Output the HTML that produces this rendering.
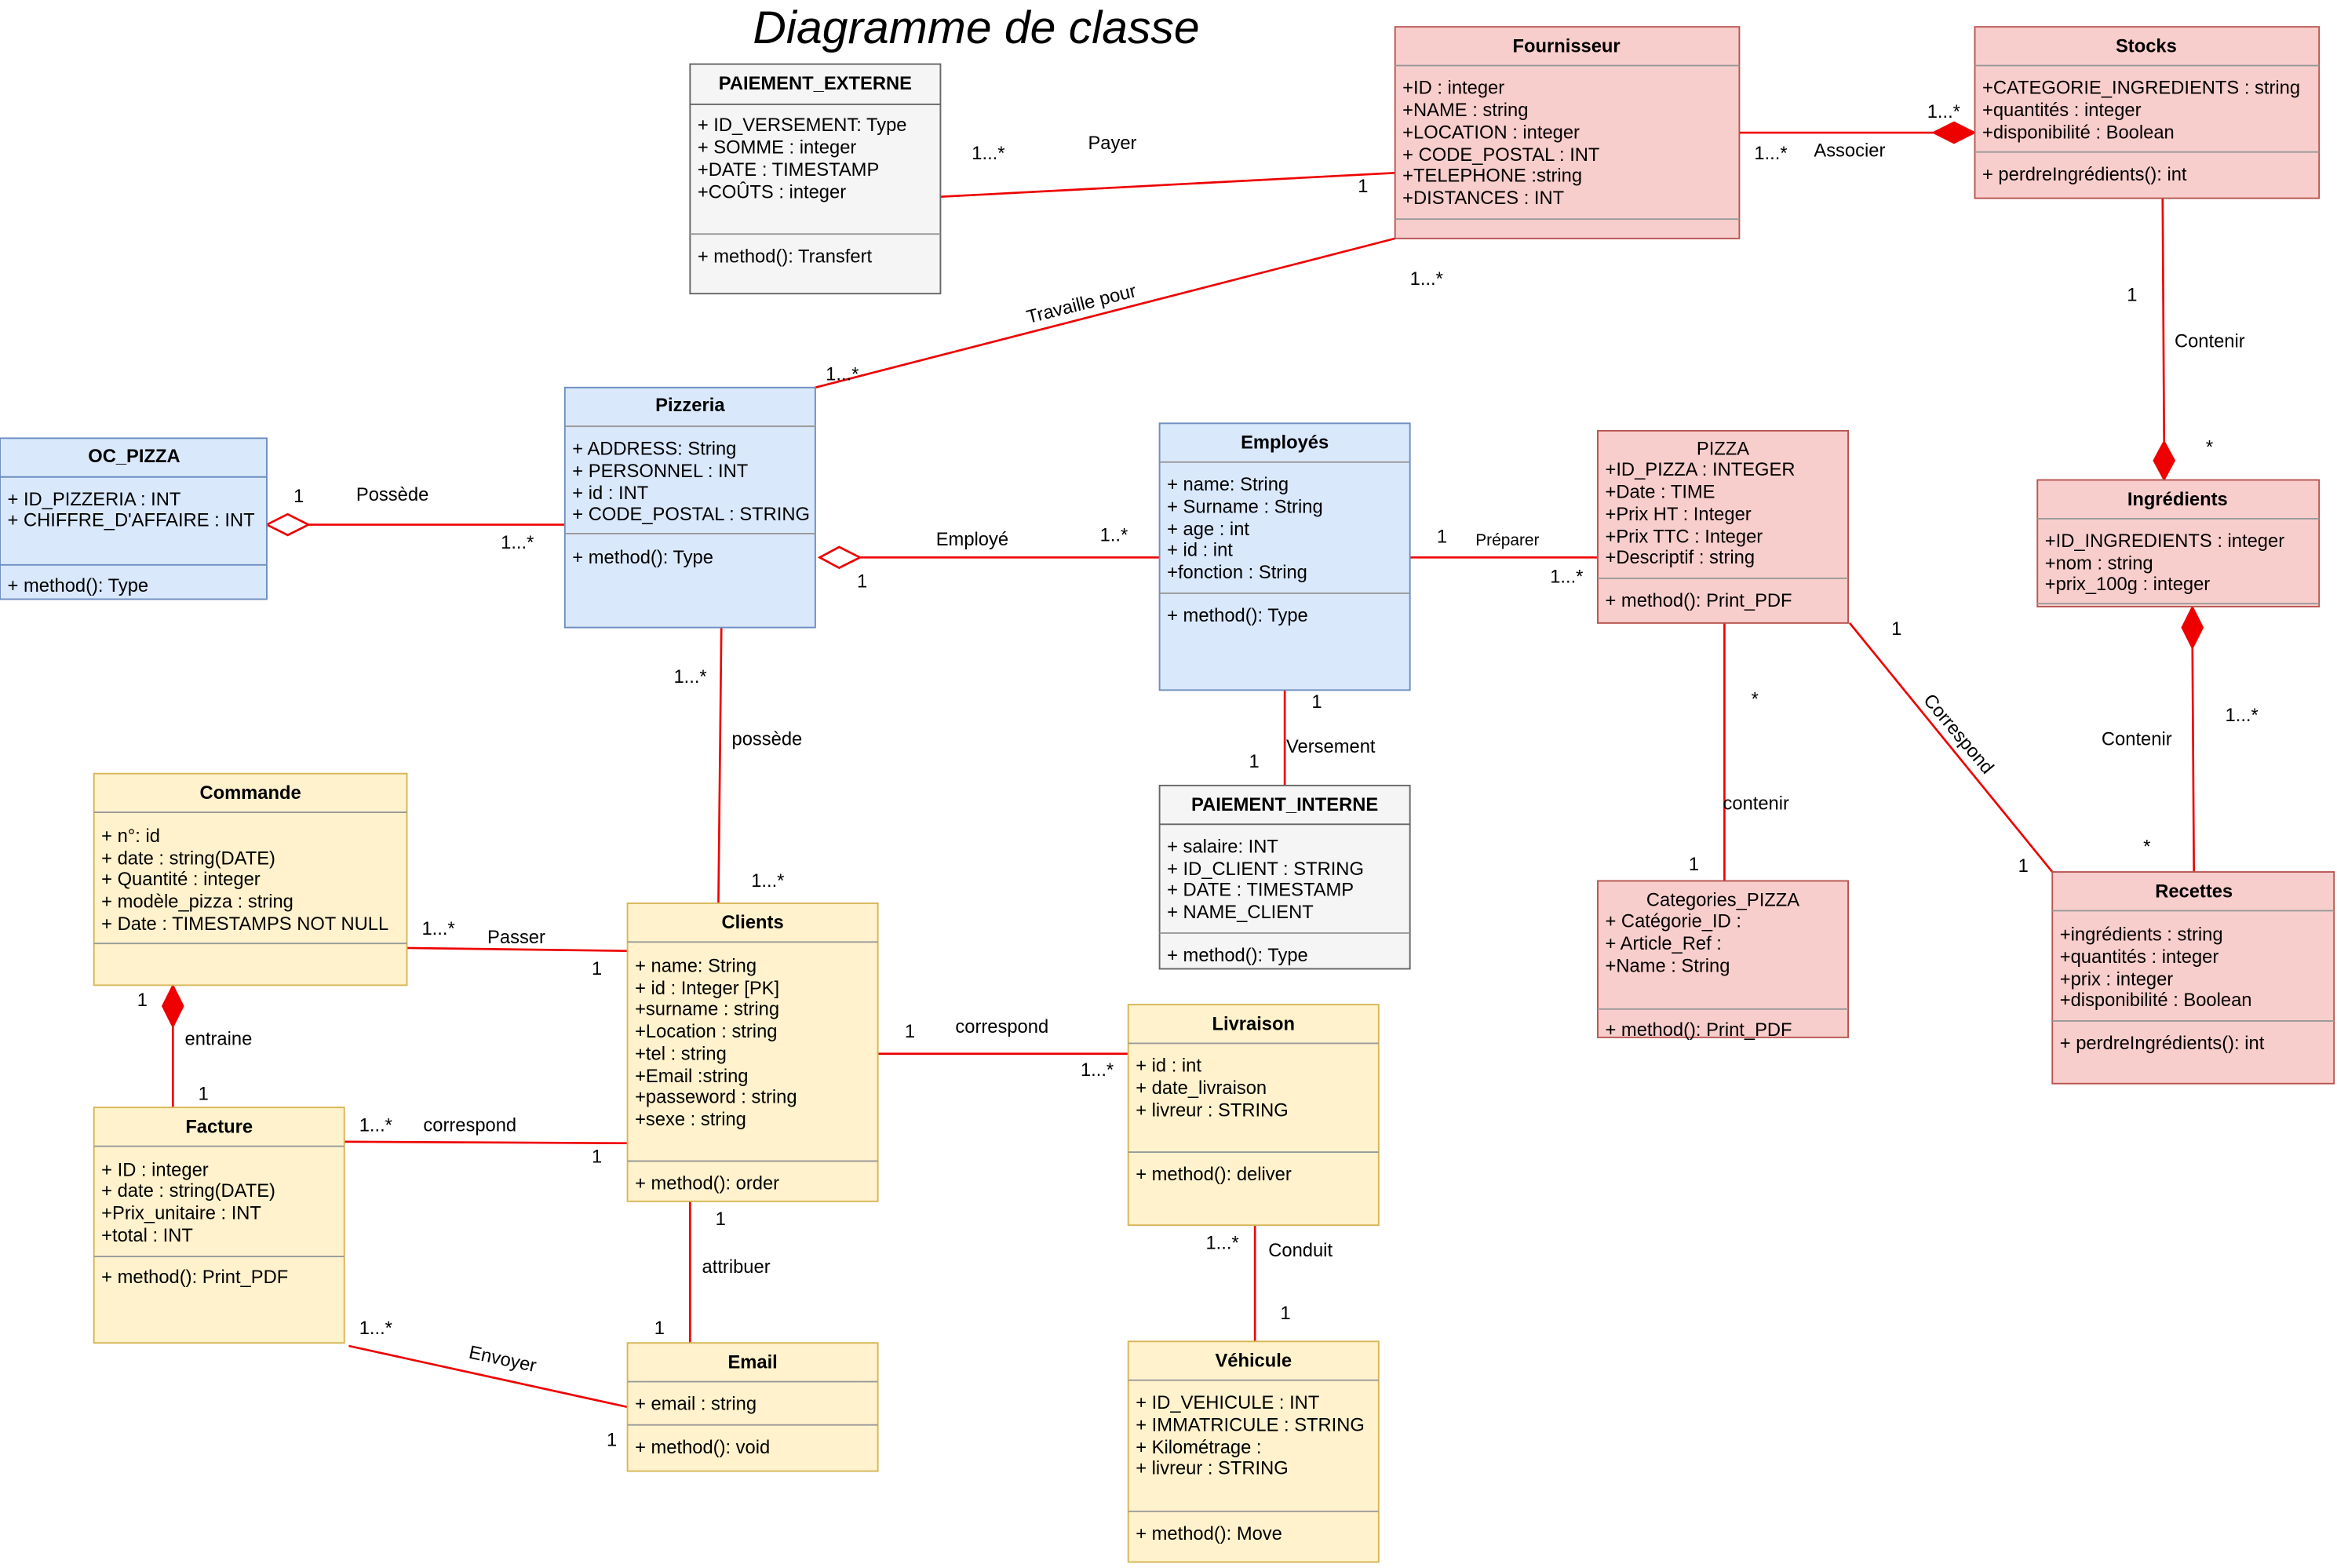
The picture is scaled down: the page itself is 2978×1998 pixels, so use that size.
<!DOCTYPE html>
<html><head><meta charset="utf-8"><style>
html,body{margin:0;padding:0;background:#fff;}
svg{display:block;}
text{font-family:"Liberation Sans",Arial,sans-serif;font-size:12.5px;fill:#000;}
.b{font-weight:bold;}
.l{stroke:#e00;stroke-width:1.4;fill:none;}
</style></head><body>
<svg width="2978" height="1998" viewBox="0 0 1568 1052" xmlns="http://www.w3.org/2000/svg">
<rect width="1568" height="1052" fill="#fff"/>
<text x="655" y="29" text-anchor="middle" style="font-size:31px;font-style:italic">Diagramme de classe</text>

<!-- connectors -->
<line class="l" x1="631" y1="132" x2="936" y2="116"/>
<line class="l" x1="1167" y1="89" x2="1297" y2="89"/>
<polygon points="1297,89 1311,82 1325,89 1311,96" fill="#e00" stroke="#e00"/>
<line class="l" x1="936" y1="160" x2="547" y2="260"/>
<line class="l" x1="1451" y1="133" x2="1452" y2="296"/>
<polygon points="1452,296 1459,309 1452,322 1445,309" fill="#e00" stroke="#e00"/>
<line class="l" x1="207" y1="352" x2="379" y2="352"/>
<polygon points="179,352 193,345 207,352 193,359" fill="#fff" stroke="#e00" stroke-width="1.4"/>
<line class="l" x1="577" y1="374" x2="778" y2="374"/>
<polygon points="550,374 563,367 577,374 563,381" fill="#fff" stroke="#e00" stroke-width="1.4"/>
<line class="l" x1="946" y1="374" x2="1072" y2="374"/>
<line class="l" x1="484" y1="421" x2="482" y2="606"/>
<line class="l" x1="862" y1="463" x2="862" y2="527"/>
<line class="l" x1="1157" y1="418" x2="1157" y2="591"/>
<line class="l" x1="1241" y1="418" x2="1377" y2="585"/>
<line class="l" x1="1471" y1="435" x2="1472" y2="585"/>
<polygon points="1471,407 1478,421 1471,435 1464,421" fill="#e00" stroke="#e00"/>
<line class="l" x1="273" y1="636" x2="421" y2="638"/>
<line class="l" x1="116" y1="689" x2="116" y2="743"/>
<polygon points="116,661 123,675 116,689 109,675" fill="#e00" stroke="#e00"/>
<line class="l" x1="231" y1="766" x2="421" y2="767"/>
<line class="l" x1="589" y1="707" x2="757" y2="707"/>
<line class="l" x1="463" y1="806" x2="463" y2="901"/>
<line class="l" x1="234" y1="903" x2="421" y2="944"/>
<line class="l" x1="842" y1="822" x2="842" y2="900"/>

<!-- connector labels -->
<text x="652" y="107">1...*</text><text x="730" y="100">Payer</text><text x="911" y="129">1</text>
<text x="1177" y="107">1...*</text><text x="1217" y="105">Associer</text><text x="1293" y="79">1...*</text>
<text x="946" y="191">1...*</text><text x="554" y="255">1...*</text>
<text x="690" y="217" transform="rotate(-14 690 217)">Travaille pour</text>
<text x="1427" y="202">1</text><text x="1459" y="233">Contenir</text><text x="1480" y="304">*</text>
<text x="197" y="337">1</text><text x="239" y="336">Possède</text><text x="336" y="368">1...*</text>
<text x="628" y="366">Employé</text><text x="738" y="363">1..*</text><text x="575" y="394">1</text>
<text x="964" y="364">1</text><text x="990" y="366" style="font-size:11px">Préparer</text><text x="1040" y="391">1...*</text>
<text x="452" y="458">1...*</text><text x="491" y="500">possède</text><text x="504" y="595">1...*</text>
<text x="880" y="475">1</text><text x="863" y="505">Versement</text><text x="838" y="515">1</text>
<text x="1175" y="473">*</text><text x="1156" y="543">contenir</text><text x="1133" y="584">1</text>
<text x="1269" y="426">1</text><text x="1354" y="585">1</text>
<text x="1290" y="470" transform="rotate(50 1290 470)">Correspond</text>
<text x="1493" y="484">1...*</text><text x="1410" y="500">Contenir</text><text x="1438" y="572">*</text>
<text x="283" y="627">1...*</text><text x="327" y="633">Passer</text><text x="397" y="654">1</text>
<text x="92" y="675">1</text><text x="124" y="701">entraine</text><text x="133" y="738">1</text>
<text x="241" y="759">1...*</text><text x="284" y="759">correspond</text><text x="397" y="780">1</text>
<text x="607" y="696">1</text><text x="641" y="693">correspond</text><text x="725" y="722">1...*</text>
<text x="480" y="822">1</text><text x="471" y="854">attribuer</text><text x="439" y="895">1</text>
<text x="241" y="895">1...*</text><text x="314" y="911" transform="rotate(12 314 911)">Envoyer</text><text x="407" y="970">1</text>
<text x="809" y="838">1...*</text><text x="851" y="843">Conduit</text><text x="859" y="885">1</text>

<!-- PAIEMENT_EXTERNE -->
<rect x="463" y="43" width="168" height="154" fill="#f5f5f5" stroke="#666"/>
<line x1="463" y1="70" x2="631" y2="70" stroke="#666"/><line x1="463" y1="157" x2="631" y2="157" stroke="#999"/>
<text x="547" y="60" text-anchor="middle" class="b">PAIEMENT_EXTERNE</text>
<text x="468" y="88">+ ID_VERSEMENT: Type</text><text x="468" y="103">+ SOMME : integer</text><text x="468" y="118">+DATE : TIMESTAMP</text><text x="468" y="133">+COÛTS : integer</text>
<text x="468" y="176">+ method(): Transfert</text>

<!-- Fournisseur -->
<rect x="936" y="18" width="231" height="142" fill="#f8cecc" stroke="#b85450"/>
<line x1="936" y1="44" x2="1167" y2="44" stroke="#999"/><line x1="936" y1="147" x2="1167" y2="147" stroke="#999"/>
<text x="1051" y="35" text-anchor="middle" class="b">Fournisseur</text>
<text x="941" y="63">+ID : integer</text><text x="941" y="78">+NAME : string</text><text x="941" y="93">+LOCATION : integer</text><text x="941" y="108">+ CODE_POSTAL : INT</text><text x="941" y="122">+TELEPHONE :string</text><text x="941" y="137">+DISTANCES : INT</text>

<!-- Stocks -->
<rect x="1325" y="18" width="231" height="115" fill="#f8cecc" stroke="#b85450"/>
<line x1="1325" y1="44" x2="1556" y2="44" stroke="#999"/><line x1="1325" y1="102" x2="1556" y2="102" stroke="#999"/>
<text x="1440" y="35" text-anchor="middle" class="b">Stocks</text>
<text x="1330" y="63">+CATEGORIE_INGREDIENTS : string</text><text x="1330" y="78">+quantités : integer</text><text x="1330" y="93">+disponibilité : Boolean</text>
<text x="1330" y="121">+ perdreIngrédients(): int</text>

<!-- OC_PIZZA -->
<rect x="0" y="294" width="179" height="108" fill="#dae8fc" stroke="#6c8ebf"/>
<line x1="0" y1="320" x2="179" y2="320" stroke="#6c8ebf"/><line x1="0" y1="379" x2="179" y2="379" stroke="#6c8ebf"/>
<text x="90" y="310" text-anchor="middle" class="b">OC_PIZZA</text>
<text x="5" y="339">+ ID_PIZZERIA : INT</text><text x="5" y="353">+ CHIFFRE_D'AFFAIRE : INT</text>
<text x="5" y="397">+ method(): Type</text>

<!-- Pizzeria -->
<rect x="379" y="260" width="168" height="161" fill="#dae8fc" stroke="#6c8ebf"/>
<line x1="379" y1="286" x2="547" y2="286" stroke="#999"/><line x1="379" y1="358" x2="547" y2="358" stroke="#999"/>
<text x="463" y="276" text-anchor="middle" class="b">Pizzeria</text>
<text x="384" y="305">+ ADDRESS: String</text><text x="384" y="320">+ PERSONNEL : INT</text><text x="384" y="335">+ id : INT</text><text x="384" y="349">+ CODE_POSTAL : STRING</text>
<text x="384" y="378">+ method(): Type</text>

<!-- Employés -->
<rect x="778" y="284" width="168" height="179" fill="#dae8fc" stroke="#6c8ebf"/>
<line x1="778" y1="310" x2="946" y2="310" stroke="#999"/><line x1="778" y1="398" x2="946" y2="398" stroke="#999"/>
<text x="862" y="301" text-anchor="middle" class="b">Employés</text>
<text x="783" y="329">+ name: String</text><text x="783" y="344">+ Surname : String</text><text x="783" y="359">+ age : int</text><text x="783" y="373">+ id : int</text><text x="783" y="388">+fonction : String</text>
<text x="783" y="417">+ method(): Type</text>

<!-- PIZZA -->
<rect x="1072" y="289" width="168" height="129" fill="#f8cecc" stroke="#b85450"/>
<line x1="1072" y1="388" x2="1240" y2="388" stroke="#999"/>
<text x="1156" y="305" text-anchor="middle">PIZZA</text>
<text x="1077" y="319">+ID_PIZZA : INTEGER</text><text x="1077" y="334">+Date : TIME</text><text x="1077" y="349">+Prix HT : Integer</text><text x="1077" y="364">+Prix TTC : Integer</text><text x="1077" y="378">+Descriptif : string</text>
<text x="1077" y="407">+ method(): Print_PDF</text>

<!-- Ingrédients -->
<rect x="1367" y="322" width="189" height="85" fill="#f8cecc" stroke="#b85450"/>
<line x1="1367" y1="348" x2="1556" y2="348" stroke="#999"/><line x1="1367" y1="405" x2="1556" y2="405" stroke="#999"/>
<text x="1461" y="339" text-anchor="middle" class="b">Ingrédients</text>
<text x="1372" y="367">+ID_INGREDIENTS : integer</text><text x="1372" y="382">+nom : string</text><text x="1372" y="396">+prix_100g : integer</text>

<!-- Commande -->
<rect x="63" y="519" width="210" height="142" fill="#fff2cc" stroke="#d6b656"/>
<line x1="63" y1="545" x2="273" y2="545" stroke="#999"/><line x1="63" y1="633" x2="273" y2="633" stroke="#999"/>
<text x="168" y="536" text-anchor="middle" class="b">Commande</text>
<text x="68" y="565">+ n°: id</text><text x="68" y="580">+ date : string(DATE)</text><text x="68" y="594">+ Quantité : integer</text><text x="68" y="609">+ modèle_pizza : string</text><text x="68" y="624">+ Date : TIMESTAMPS NOT NULL</text>

<!-- Clients -->
<rect x="421" y="606" width="168" height="200" fill="#fff2cc" stroke="#d6b656"/>
<line x1="421" y1="632" x2="589" y2="632" stroke="#999"/><line x1="421" y1="779" x2="589" y2="779" stroke="#999"/>
<text x="505" y="623" text-anchor="middle" class="b">Clients</text>
<text x="426" y="652">+ name: String</text><text x="426" y="667">+ id : Integer [PK]</text><text x="426" y="681">+surname : string</text><text x="426" y="696">+Location : string</text><text x="426" y="711">+tel : string</text><text x="426" y="726">+Email :string</text><text x="426" y="740">+passeword : string</text><text x="426" y="755">+sexe : string</text>
<text x="426" y="798">+ method(): order</text>

<!-- PAIEMENT_INTERNE -->
<rect x="778" y="527" width="168" height="123" fill="#f5f5f5" stroke="#666"/>
<line x1="778" y1="553" x2="946" y2="553" stroke="#666"/><line x1="778" y1="626" x2="946" y2="626" stroke="#999"/>
<text x="862" y="544" text-anchor="middle" class="b">PAIEMENT_INTERNE</text>
<text x="783" y="572">+ salaire: INT</text><text x="783" y="587">+ ID_CLIENT : STRING</text><text x="783" y="601">+ DATE : TIMESTAMP</text><text x="783" y="616">+ NAME_CLIENT</text>
<text x="783" y="645">+ method(): Type</text>

<!-- Livraison -->
<rect x="757" y="674" width="168" height="148" fill="#fff2cc" stroke="#d6b656"/>
<line x1="757" y1="700" x2="925" y2="700" stroke="#999"/><line x1="757" y1="773" x2="925" y2="773" stroke="#999"/>
<text x="841" y="691" text-anchor="middle" class="b">Livraison</text>
<text x="762" y="719">+ id : int</text><text x="762" y="734">+ date_livraison</text><text x="762" y="749">+ livreur : STRING</text>
<text x="762" y="792">+ method(): deliver</text>

<!-- Categories_PIZZA -->
<rect x="1072" y="591" width="168" height="105" fill="#f8cecc" stroke="#b85450"/>
<line x1="1072" y1="677" x2="1240" y2="677" stroke="#999"/>
<text x="1156" y="608" text-anchor="middle">Categories_PIZZA</text>
<text x="1077" y="622">+ Catégorie_ID :</text><text x="1077" y="637">+ Article_Ref :</text><text x="1077" y="652">+Name : String</text>
<text x="1077" y="695">+ method(): Print_PDF</text>

<!-- Recettes -->
<rect x="1377" y="585" width="189" height="142" fill="#f8cecc" stroke="#b85450"/>
<line x1="1377" y1="611" x2="1566" y2="611" stroke="#999"/><line x1="1377" y1="685" x2="1566" y2="685" stroke="#999"/>
<text x="1472" y="602" text-anchor="middle" class="b">Recettes</text>
<text x="1382" y="631">+ingrédients : string</text><text x="1382" y="646">+quantités : integer</text><text x="1382" y="661">+prix : integer</text><text x="1382" y="675">+disponibilité : Boolean</text>
<text x="1382" y="704">+ perdreIngrédients(): int</text>

<!-- Facture -->
<rect x="63" y="743" width="168" height="158" fill="#fff2cc" stroke="#d6b656"/>
<line x1="63" y1="769" x2="231" y2="769" stroke="#999"/><line x1="63" y1="843" x2="231" y2="843" stroke="#999"/>
<text x="147" y="760" text-anchor="middle" class="b">Facture</text>
<text x="68" y="789">+ ID : integer</text><text x="68" y="803">+ date : string(DATE)</text><text x="68" y="818">+Prix_unitaire : INT</text><text x="68" y="833">+total : INT</text>
<text x="68" y="861">+ method(): Print_PDF</text>

<!-- Email -->
<rect x="421" y="901" width="168" height="86" fill="#fff2cc" stroke="#d6b656"/>
<line x1="421" y1="927" x2="589" y2="927" stroke="#999"/><line x1="421" y1="956" x2="589" y2="956" stroke="#999"/>
<text x="505" y="918" text-anchor="middle" class="b">Email</text>
<text x="426" y="946">+ email : string</text>
<text x="426" y="975">+ method(): void</text>

<!-- Véhicule -->
<rect x="757" y="900" width="168" height="148" fill="#fff2cc" stroke="#d6b656"/>
<line x1="757" y1="926" x2="925" y2="926" stroke="#999"/><line x1="757" y1="1014" x2="925" y2="1014" stroke="#999"/>
<text x="841" y="917" text-anchor="middle" class="b">Véhicule</text>
<text x="762" y="945">+ ID_VEHICULE : INT</text><text x="762" y="960">+ IMMATRICULE : STRING</text><text x="762" y="975">+ Kilométrage :</text><text x="762" y="989">+ livreur : STRING</text>
<text x="762" y="1033">+ method(): Move</text>
</svg>
</body></html>
